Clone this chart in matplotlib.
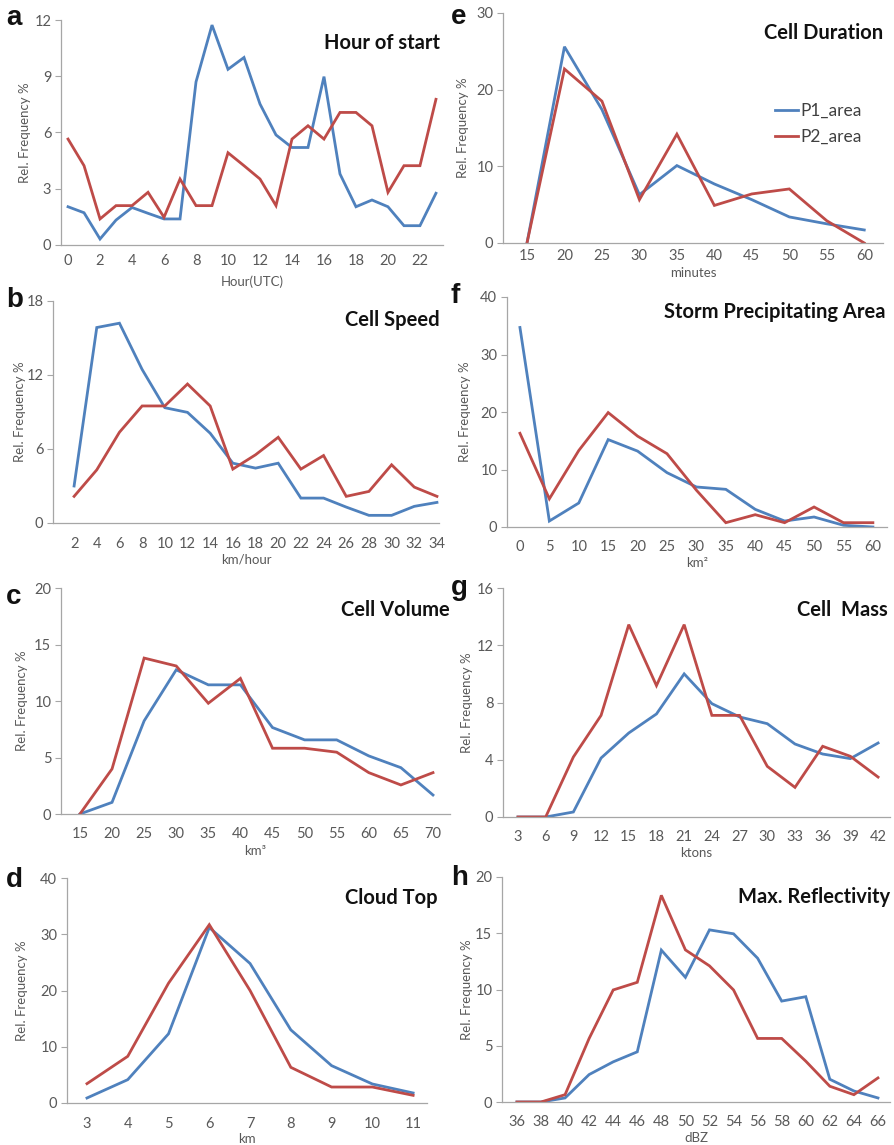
import matplotlib.pyplot as plt
import numpy as np

W, H = 894, 1145
plt.rcParams["font.family"] = ["Lato", "DejaVu Sans"]
plt.rcParams["figure.facecolor"] = "white"

BLUE = "#4F81BD"
RED = "#BE4B48"
GRAY = "#595959"
SPINE = "#A6A6A6"

# --- data ---
hour_cats = [str(h) for h in range(24)]
hour_p1 = [2.04, 1.72, 0.32, 1.33, 2.0, 1.69, 1.39, 1.39, 8.7, 11.73, 9.37, 10.0,
           7.52, 5.87, 5.2, 5.2, 8.98, 3.79, 2.04, 2.4, 2.04, 1.03, 1.03, 2.76]
hour_p2 = [5.65, 4.23, 1.39, 2.1, 2.1, 2.81, 1.48, 3.52, 2.1, 2.1, 4.92, 4.23,
           3.52, 2.1, 5.65, 6.36, 5.65, 7.07, 7.07, 6.36, 2.81, 4.23, 4.23, 7.77]

dur_cats = ["15", "20", "25", "30", "35", "40", "45", "50", "55", "60"]
dur_p1 = [0.0, 25.6, 17.4, 6.3, 10.1, 7.7, 5.65, 3.4, 2.5, 1.7]
dur_p2 = [0.0, 22.7, 18.5, 5.65, 14.2, 4.9, 6.4, 7.05, 2.9, 0.0]

speed_cats = [str(v) for v in range(2, 35, 2)]
speed_p1 = [3.0, 15.85, 16.2, 12.45, 9.35, 8.97, 7.28, 4.85, 4.45, 4.85, 2.02,
            2.02, 1.29, 0.62, 0.62, 1.35, 1.67]
speed_p2 = [2.16, 4.31, 7.36, 9.49, 9.49, 11.27, 9.49, 4.37, 5.53, 6.95, 4.37,
            5.47, 2.16, 2.56, 4.72, 2.91, 2.16]

area_cats = [str(v) for v in range(0, 61, 5)]
area_p1 = [34.7, 1.04, 4.17, 15.2, 13.2, 9.45, 6.96, 6.55, 3.07, 1.04, 1.74, 0.3, 0.0]
area_p2 = [16.3, 4.9, 13.3, 19.9, 15.8, 12.75, 6.4, 0.75, 2.14, 0.75, 3.48, 0.75, 0.75]

vol_cats = [str(v) for v in range(15, 71, 5)]
vol_p1 = [0.0, 1.03, 8.24, 12.76, 11.43, 11.43, 7.65, 6.56, 6.56, 5.14, 4.1, 1.68]
vol_p2 = [0.0, 3.99, 13.8, 13.1, 9.8, 12.0, 5.82, 5.82, 5.47, 3.66, 2.57, 3.66]

mass_cats = [str(v) for v in range(3, 43, 3)]
mass_p1 = [0.0, 0.0, 0.35, 4.12, 5.87, 7.2, 10.0, 7.92, 6.99, 6.52, 5.1, 4.4, 4.08, 5.17]
mass_p2 = [0.0, 0.0, 4.19, 7.1, 13.44, 9.18, 13.44, 7.1, 7.1, 3.54, 2.07, 4.94, 4.24, 2.79]

top_cats = [str(v) for v in range(3, 12)]
top_p1 = [0.89, 4.15, 12.3, 31.2, 24.8, 13.0, 6.64, 3.38, 1.78]
top_p2 = [3.44, 8.3, 21.3, 31.7, 20.0, 6.34, 2.84, 2.84, 1.36]

refl_cats = [str(v) for v in range(36, 67, 2)]
refl_p1 = [0.0, 0.0, 0.36, 2.44, 3.57, 4.46, 13.5, 11.08, 15.3, 14.95, 12.78,
           8.97, 9.36, 2.02, 0.98, 0.36]
refl_p2 = [0.0, 0.0, 0.65, 5.65, 9.96, 10.64, 18.37, 13.52, 12.1, 9.96, 5.65,
           5.65, 3.63, 1.4, 0.65, 2.14]

panels = [
    # letter, title, xlabel, cats, p1, p2, yticks, label step,
    # rect px (left, top, right, bottom), xlim, title px (right, y), letter px,
    # ylabel x px, tick label y px, xlabel y px
    ("a", "Hour of start", "Hour(UTC)", hour_cats, hour_p1, hour_p2, [0, 3, 6, 9, 12], 2,
     (61, 20, 443, 245), (-0.44, 23.44), (440, 43), (6, 18), 25, 262, 282),
    ("e", "Cell Duration", "minutes", dur_cats, dur_p1, dur_p2, [0, 10, 20, 30], 1,
     (503, 13, 883, 243), (-0.64, 9.5), (883, 33), (451, 17), 463, 257, 273),
    ("b", "Cell Speed", "km/hour", speed_cats, speed_p1, speed_p2, [0, 6, 12, 18], 1,
     (53, 301, 439, 523), (-0.93, 16.09), (440, 320), (6, 300), 20, 545, 560),
    ("f", "Storm Precipitating Area", "km\u00b2", area_cats, area_p1, area_p2, [0, 10, 20, 30, 40], 1,
     (507, 297, 887, 527), (-0.44, 12.48), (885, 312), (451, 296), 465, 548, 563),
    ("c", "Cell Volume", "km\u00b3", vol_cats, vol_p1, vol_p2, [0, 5, 10, 15, 20], 1,
     (61, 588, 450, 814), (-0.59, 11.53), (450, 610), (6, 597), 22, 835, 851),
    ("g", "Cell  Mass", "ktons", mass_cats, mass_p1, mass_p2, [0, 4, 8, 12, 16], 1,
     (503, 588, 890, 817), (-0.54, 13.43), (888, 610), (451, 588), 467, 838, 853),
    ("d", "Cloud Top", "km", top_cats, top_p1, top_p2, [0, 10, 20, 30, 40], 1,
     (67, 878, 427, 1103), (-0.49, 8.34), (438, 898), (6, 880), 22, 1125, 1139),
    ("h", "Max. Reflectivity", "dBZ", refl_cats, refl_p1, refl_p2, [0, 5, 10, 15, 20], 1,
     (502, 877, 890, 1102), (-0.62, 15.5), (890, 897), (451, 878), 467, 1123, 1138),
]

fig = plt.figure(figsize=(W / 100, H / 100), dpi=100)

for (letter, title, xlab, cats, p1, p2, yticks, step, rect, xlim,
     tpos, lpos, ylab_x, tick_y, xlab_y) in panels:
    left, top, right, bottom = rect
    ax = fig.add_axes([left / W, 1 - bottom / H, (right - left) / W, (bottom - top) / H])
    x = np.arange(len(cats))
    ax.plot(x, p1, color=BLUE, lw=2.0, label="P1_area", solid_joinstyle="miter")
    ax.plot(x, p2, color=RED, lw=2.0, label="P2_area", solid_joinstyle="miter")

    ax.set_xlim(*xlim)
    ax.set_ylim(yticks[0], yticks[-1])
    ax.set_yticks(yticks)
    ax.set_xticks(x[::step])
    ax.set_xticklabels(cats[::step])

    for s in ["top", "right"]:
        ax.spines[s].set_visible(False)
    for s in ["left", "bottom"]:
        ax.spines[s].set_color(SPINE)
        ax.spines[s].set_linewidth(0.9)

    ax.tick_params(axis="y", length=4, color=SPINE, labelsize=10.5, labelcolor=GRAY, pad=3)
    ax.tick_params(axis="x", length=0, labelsize=10.5, labelcolor=GRAY,
                   pad=(tick_y - bottom - 8) * 0.72)

    ax.set_xlabel(xlab, fontsize=9.5, color=GRAY)
    ax.xaxis.label.set_va("center")
    ax.xaxis.set_label_coords(0.5, (bottom - xlab_y) / (bottom - top))

    ax.set_ylabel("Rel. Frequency %", fontsize=9.5, color=GRAY)
    ax.yaxis.label.set_va("center")
    ax.yaxis.set_label_coords((ylab_x - left) / (right - left), 0.5)

    fig.text(tpos[0] / W, 1 - tpos[1] / H, title, ha="right", va="center",
             fontsize=14.5, fontweight="bold", color="#111111")
    fig.text(lpos[0] / W, 1 - lpos[1] / H, letter, ha="left", va="center",
             fontsize=20, fontweight="bold", family="Liberation Sans", color="#111111")

    if letter == "e":
        ax.legend(loc="upper left", bbox_to_anchor=(0.716, 0.61), frameon=False,
                  fontsize=12.5, handlelength=1.3, handletextpad=0.15,
                  labelspacing=0.6, borderpad=0, borderaxespad=0,
                  labelcolor="#404040")

fig.savefig("out.png", dpi=100)
